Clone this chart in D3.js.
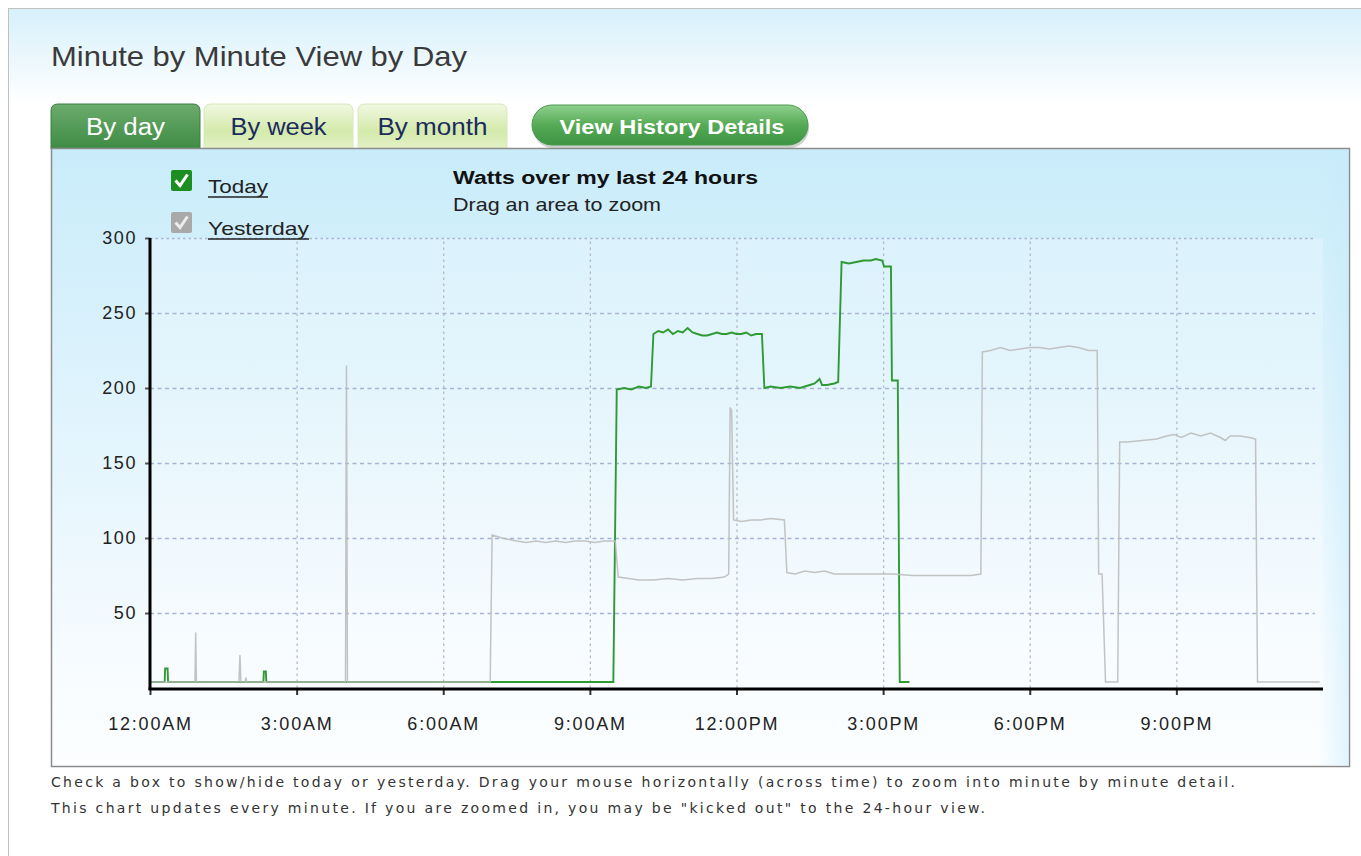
<!DOCTYPE html>
<html>
<head>
<meta charset="utf-8">
<script src="https://cdn.jsdelivr.net/npm/d3@7"></script>
<style>
  body { margin: 0; background: #fff; }
  svg { display: block; }
</style>
</head>
<body>
<svg id="chart"></svg>
<script>
// Watts: [hour of day, watts]
const todayPoints = [
  [0, 4], [0.30, 4], [0.31, 13], [0.36, 13], [0.37, 4], [2.32, 4], [2.33, 11], [2.37, 11], [2.38, 4],
  [9.48, 4], [9.55, 199], [9.7, 200], [9.85, 199], [10.0, 201], [10.15, 200], [10.25, 201],
  [10.30, 236], [10.4, 238], [10.5, 237], [10.6, 239], [10.7, 236], [10.8, 238], [10.9, 237], [11.0, 240],
  [11.1, 237], [11.2, 236], [11.3, 235], [11.4, 235], [11.5, 236], [11.6, 237], [11.7, 236], [11.8, 236],
  [11.9, 237], [12.0, 236], [12.1, 236], [12.2, 237], [12.3, 235], [12.4, 236], [12.52, 236],
  [12.57, 200], [12.7, 201], [12.9, 200], [13.1, 201], [13.3, 200], [13.5, 202], [13.6, 203], [13.7, 206],
  [13.75, 202], [13.85, 202], [14.0, 203], [14.08, 204],
  [14.15, 284], [14.3, 283], [14.45, 284], [14.6, 285], [14.75, 285], [14.85, 286], [14.98, 285],
  [15.02, 281], [15.16, 281], [15.18, 205], [15.30, 205], [15.34, 4], [15.54, 4]
];

const yesterdayPoints = [
  [0, 4], [0.92, 4], [0.935, 37], [0.95, 4], [1.82, 4], [1.84, 22], [1.86, 4], [1.95, 4], [1.96, 7], [1.98, 4],
  [4.0, 4], [4.02, 215], [4.04, 4], [6.96, 4],
  [7.0, 102], [7.1, 101], [7.2, 100], [7.35, 99], [7.5, 98], [7.7, 97], [7.9, 98], [8.1, 97], [8.3, 98],
  [8.5, 97], [8.7, 98], [8.9, 98], [9.1, 97], [9.3, 98], [9.52, 98],
  [9.58, 74], [9.8, 73], [10.0, 72], [10.3, 72], [10.6, 73], [10.9, 72], [11.2, 73], [11.5, 73], [11.75, 74],
  [11.84, 76], [11.87, 187], [11.90, 185], [11.94, 112], [12.1, 111], [12.3, 112], [12.5, 112], [12.7, 113],
  [12.98, 112], [13.03, 77], [13.2, 76], [13.4, 78], [13.6, 77], [13.8, 78], [14.0, 76], [14.2, 76],
  [14.5, 76], [14.8, 76], [15.2, 76], [15.6, 75], [16.0, 75], [16.4, 75], [16.8, 75], [17.0, 76],
  [17.03, 224], [17.2, 225], [17.4, 227], [17.6, 225], [17.8, 226], [18.0, 227], [18.2, 227], [18.4, 226],
  [18.6, 227], [18.8, 228], [19.0, 227], [19.2, 225], [19.38, 225],
  [19.41, 76], [19.48, 76], [19.55, 4], [19.80, 4],
  [19.84, 164], [20.0, 164], [20.3, 165], [20.6, 166], [20.8, 168], [20.95, 169], [21.1, 167], [21.3, 170],
  [21.5, 168], [21.7, 170], [21.9, 167], [22.0, 165], [22.1, 168], [22.3, 168], [22.5, 167], [22.62, 166],
  [22.66, 4], [23.93, 4]
];

const yTicks = [50, 100, 150, 200, 250, 300];
const xTickHours = [0, 3, 6, 9, 12, 15, 18, 21];
const xTickLabels = ['12:00AM', '3:00AM', '6:00AM', '9:00AM', '12:00PM', '3:00PM', '6:00PM', '9:00PM'];

const tabs = ['By day', 'By week', 'By month'];
const legendItems = ['Today', 'Yesterday'];

// Layout
const svgWidth = 1361;
const svgHeight = 856;
const plot = { left: 150, right: 1323, top: 238, bottom: 688 };

const svg = d3.select('#chart')
  .attr('width', svgWidth)
  .attr('height', svgHeight);

const defs = svg.append('defs');

function gradient(id, stops, coords) {
  const g = defs.append('linearGradient').attr('id', id);
  if (coords) {
    g.attr('gradientUnits', 'userSpaceOnUse')
      .attr('x1', coords[0]).attr('y1', coords[1]).attr('x2', coords[2]).attr('y2', coords[3]);
  } else {
    g.attr('x1', 0).attr('y1', 0).attr('x2', 0).attr('y2', 1);
  }
  stops.forEach(s => g.append('stop').attr('offset', s[0]).attr('stop-color', s[1]).attr('stop-opacity', s[2] === undefined ? 1 : s[2]));
}

gradient('outerGrad', [[0, '#d6f0fb'], [1, '#ffffff']], [0, 8, 0, 105]);
gradient('panelGrad', [[0, '#c9ecfa'], [0.5, '#e4f5fd'], [0.85, '#f8fcff'], [1, '#fcfeff']], [0, 148, 0, 767]);
gradient('rightGrad', [[0, '#c9ecfa', 0], [1, '#c4eafa', 0.5]], [1318, 0, 1349, 0]);
gradient('activeTab', [[0, '#6cab6c'], [1, '#3e8b45']]);
gradient('idleTab', [[0, '#f1f8e2'], [0.6, '#d4eaab'], [1, '#e4f1c8']]);
gradient('pillGrad', [[0, '#8fd08f'], [0.5, '#56aa56'], [1, '#3d9443']]);

// Outer box with light blue top
svg.append('rect')
  .attr('x', 8.5).attr('y', 8.5)
  .attr('width', 1400).attr('height', 860)
  .style('fill', 'url(#outerGrad)')
  .style('stroke', '#c0c0c0');

// Text helper
function addText(parent, str, x, y, opts) {
  const t = parent.append('text')
    .attr('x', x).attr('y', y)
    .style('font-family', opts.family || '"Liberation Sans", Arial, sans-serif')
    .style('font-size', opts.size + 'px')
    .style('font-weight', opts.weight || 'normal')
    .style('fill', opts.color || '#222')
    .attr('text-anchor', opts.anchor || 'start')
    .text(str);
  if (opts.len) t.attr('textLength', opts.len).attr('lengthAdjust', opts.adjust || 'spacingAndGlyphs');
  if (opts.spacing) t.style('letter-spacing', opts.spacing + 'px');
  return t;
}

addText(svg, 'Minute by Minute View by Day', 51, 66, { size: 28, color: '#3a3a3a', len: 416 });

// Tabs
function tabPath(x, y, w, h, r) {
  return `M${x},${y + h} L${x},${y + r} Q${x},${y} ${x + r},${y} L${x + w - r},${y} Q${x + w},${y} ${x + w},${y + r} L${x + w},${y + h} Z`;
}
const tabX = [51, 204, 358];
const tabTextLen = [79, 96, 110];
tabs.forEach((t, i) => {
  const active = i === 0;
  svg.append('path')
    .attr('d', tabPath(tabX[i], 104, 149, 45, 7))
    .style('fill', active ? 'url(#activeTab)' : 'url(#idleTab)')
    .style('stroke', active ? '#3d7f42' : '#d6e8bc')
    .style('stroke-width', 1);
  addText(svg, t, tabX[i] + 74.5, 135, {
    size: 23, anchor: 'middle', color: active ? '#ffffff' : '#1b2b5e', len: tabTextLen[i]
  });
});

// View History Details pill
svg.append('rect')
  .attr('x', 533).attr('y', 108).attr('width', 276).attr('height', 40).attr('rx', 20)
  .style('fill', '#9aa89a').style('opacity', 0.5);
svg.append('rect')
  .attr('x', 532).attr('y', 105).attr('width', 276).attr('height', 40).attr('rx', 20)
  .style('fill', 'url(#pillGrad)').style('stroke', '#4c9a4c');
addText(svg, 'View History Details', 672, 134, { size: 21, weight: 'bold', anchor: 'middle', color: '#ffffff', len: 225 });

// Chart panel
svg.append('rect')
  .attr('x', 51.5).attr('y', 148.5).attr('width', 1298).attr('height', 618)
  .style('fill', 'url(#panelGrad)')
  .style('stroke', '#8c8c8c').style('stroke-width', 1.5);
svg.append('rect')
  .attr('x', 1318).attr('y', 149.5).attr('width', 31).attr('height', 616)
  .style('fill', 'url(#rightGrad)');
svg.append('rect')
  .attr('x', plot.left).attr('y', plot.top).attr('width', plot.right - plot.left).attr('height', plot.bottom - plot.top)
  .style('fill', '#ffffff').style('opacity', 0.22);

// Scales
const x = d3.scaleLinear().domain([0, 24]).range([plot.left, plot.right]);
const y = d3.scaleLinear().domain([0, 300]).range([plot.bottom, plot.top]);

// Horizontal grid
const yGrid = svg.append('g')
  .attr('transform', `translate(${plot.left},0)`)
  .call(d3.axisLeft(y).tickValues(yTicks).tickSize(-(plot.right - plot.left - 8)).tickFormat(''));
yGrid.select('.domain').remove();
yGrid.selectAll('.tick line')
  .style('stroke', '#a9b3da')
  .style('stroke-width', 1.3)
  .style('stroke-dasharray', d => d === 300 ? '2.5,3' : '4,3.5');

// Vertical grid
const xGrid = svg.append('g')
  .attr('transform', `translate(0,${plot.bottom})`)
  .call(d3.axisBottom(x).tickValues(xTickHours.slice(1)).tickSize(-(plot.bottom - plot.top)).tickFormat(''));
xGrid.select('.domain').remove();
xGrid.selectAll('.tick line')
  .style('stroke', '#b4bac6')
  .style('stroke-width', 1.3)
  .style('stroke-dasharray', '2.5,3.5');

// Lines
const line = d3.line()
  .x(d => x(d[0]))
  .y(d => y(d[1]));

svg.append('path')
  .datum(todayPoints)
  .attr('d', line)
  .style('fill', 'none')
  .style('stroke', '#2f9a34')
  .style('stroke-width', 1.9);

svg.append('path')
  .datum(yesterdayPoints)
  .attr('d', line)
  .style('fill', 'none')
  .style('stroke', '#bcbcbc')
  .style('stroke-width', 1.5)
  .style('opacity', 0.9);

// Axes
const yAxis = svg.append('g')
  .attr('transform', `translate(${plot.left},0)`)
  .call(d3.axisLeft(y).tickValues(yTicks).tickSize(5).tickPadding(8).tickSizeOuter(0));
yAxis.select('.domain').remove();
yAxis.selectAll('.tick line').style('stroke', '#555').style('stroke-width', 2);
yAxis.selectAll('.tick text')
  .style('font-family', '"Liberation Sans", Arial, sans-serif')
  .style('font-size', '18px')
  .style('letter-spacing', '1.6px')
  .style('fill', '#222');

const xAxis = svg.append('g')
  .attr('transform', `translate(0,${plot.bottom})`)
  .call(d3.axisBottom(x).tickValues(xTickHours).tickSize(7).tickPadding(22)
    .tickFormat((d, i) => xTickLabels[i]));
xAxis.select('.domain').remove();
xAxis.selectAll('.tick line').style('stroke', '#333').style('stroke-width', 2);
xAxis.selectAll('.tick text')
  .style('font-family', '"Liberation Sans", Arial, sans-serif')
  .style('font-size', '18px')
  .style('letter-spacing', '1.8px')
  .style('fill', '#222');

svg.append('line')
  .attr('x1', plot.left).attr('x2', plot.left)
  .attr('y1', plot.top).attr('y2', plot.bottom + 2)
  .style('stroke', '#000').style('stroke-width', 3);
svg.append('line')
  .attr('x1', plot.left - 1.5).attr('x2', plot.right)
  .attr('y1', plot.bottom + 1).attr('y2', plot.bottom + 1)
  .style('stroke', '#000').style('stroke-width', 3);

// Legend
const legendColors = ['#1d8f22', '#a9a9a9'];
const legendCheck = ['#ffffff', '#ececec'];
const legendLen = [60, 101];
legendItems.forEach((name, i) => {
  const ly = 170 + i * 42;
  const g = svg.append('g').attr('transform', `translate(171,${ly})`);
  g.append('rect')
    .attr('width', 21).attr('height', 21).attr('rx', 2)
    .style('fill', legendColors[i]);
  g.append('path')
    .attr('d', 'M4.5,10.5 L9,15.5 L16.5,4.5')
    .style('fill', 'none')
    .style('stroke', legendCheck[i])
    .style('stroke-width', 3);
  addText(svg, name, 208, ly + 23, { size: 19, color: '#222', len: legendLen[i] });
  svg.append('line')
    .attr('x1', 208).attr('x2', 208 + legendLen[i])
    .attr('y1', ly + 27).attr('y2', ly + 27)
    .style('stroke', '#222').style('stroke-width', 1.5);
});

// Chart titles
addText(svg, 'Watts over my last 24 hours', 453, 184, { size: 18, weight: 'bold', color: '#111', len: 305 });
addText(svg, 'Drag an area to zoom', 453, 211, { size: 19, color: '#222', len: 208 });

// Footer
addText(svg, 'Check a box to show/hide today or yesterday. Drag your mouse horizontally (across time) to zoom into minute by minute detail.',
  51, 787, { size: 14, family: '"DejaVu Sans", Verdana, sans-serif', color: '#333', len: 1184, adjust: 'spacing' });
addText(svg, 'This chart updates every minute. If you are zoomed in, you may be "kicked out" to the 24-hour view.',
  51, 813, { size: 14, family: '"DejaVu Sans", Verdana, sans-serif', color: '#333', len: 934, adjust: 'spacing' });
</script>
</body>
</html>
